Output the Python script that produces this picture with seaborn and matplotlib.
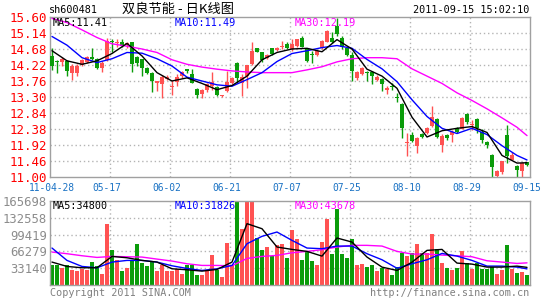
import matplotlib
matplotlib.use("Agg")
import matplotlib.pyplot as plt
import matplotlib.transforms as mtrans
import seaborn as sns
import numpy as np

sns.set_style("white")
plt.rcParams['font.family'] = ['DejaVu Sans Mono', 'Noto Sans CJK SC']

# ---------------- data ----------------
symbol = "sh600481"
title = "双良节能 - 日K线图"
stamp = "2011-09-15 15:02:10"

opens = [14.48, 14.33, 14.30, 14.33, 13.98, 14.00, 14.21, 14.31, 14.45, 14.40,
         14.14, 14.37, 14.92, 14.85, 14.87, 14.79, 14.87, 14.46, 14.38, 14.14,
         14.00, 13.69, 13.66, 13.82, 13.59, 13.73, 13.90, 14.10, 13.95, 13.53,
         13.40, 13.51, 13.63, 13.59, 13.32, 13.47, 13.69, 14.29, 13.71, 13.90,
         14.24, 14.70, 14.58, 14.43, 14.70, 14.65, 14.73, 14.82, 14.68, 14.77,
         15.01, 14.68, 14.55, 14.50, 14.70, 14.87, 15.01, 15.33, 15.01, 14.70,
         14.50, 13.85, 13.95, 14.02, 14.02, 13.78, 13.82, 13.49, 13.63, 13.31,
         13.10, 11.97, 12.21, 11.89, 12.24, 12.27, 12.47, 12.67, 11.92, 12.21,
         12.21, 12.42, 12.38, 12.80, 12.50, 12.67, 12.30, 12.02, 11.63, 11.04,
         11.13, 12.21, 11.50, 11.33, 11.17, 11.42]
highs = [14.70, 14.36, 14.45, 14.36, 14.24, 14.24, 14.38, 14.48, 14.70, 14.43,
         14.34, 15.01, 14.97, 14.98, 14.97, 14.87, 14.89, 14.48, 14.40, 14.17,
         14.02, 13.77, 13.92, 13.92, 13.80, 13.95, 14.05, 14.11, 14.10, 13.56,
         13.53, 13.69, 14.02, 13.61, 13.37, 14.05, 13.88, 14.31, 13.95, 14.23,
         14.87, 14.71, 14.60, 14.53, 14.71, 14.74, 14.92, 14.89, 14.97, 14.98,
         15.04, 14.70, 14.63, 14.66, 14.95, 15.24, 15.16, 15.58, 15.06, 14.72,
         14.58, 14.05, 14.16, 14.04, 14.04, 13.92, 13.85, 13.63, 13.71, 13.42,
         13.13, 12.26, 12.30, 12.16, 12.27, 12.45, 13.04, 12.71, 12.23, 12.25,
         12.35, 12.45, 12.72, 12.84, 12.64, 12.70, 12.37, 12.04, 11.65, 11.19,
         11.46, 12.49, 11.72, 11.35, 11.43, 11.44]
lows = [14.08, 13.99, 14.20, 13.90, 13.78, 13.90, 14.19, 14.29, 14.37, 14.11,
        14.02, 14.34, 14.58, 14.75, 14.75, 14.72, 14.02, 14.19, 13.90, 13.95,
        13.44, 13.47, 13.27, 13.78, 13.37, 13.61, 13.85, 14.00, 13.69, 13.27,
        13.27, 13.44, 13.51, 13.32, 13.30, 13.44, 13.66, 13.71, 13.34, 13.56,
        14.22, 14.58, 14.31, 14.40, 14.50, 14.63, 14.68, 14.68, 14.63, 14.75,
        14.73, 14.32, 14.29, 14.48, 14.68, 14.87, 14.85, 15.06, 14.68, 14.48,
        13.76, 13.78, 13.92, 13.76, 13.66, 13.76, 13.47, 13.40, 13.51, 13.15,
        12.11, 11.60, 12.01, 11.70, 12.11, 12.24, 12.44, 12.11, 11.72, 12.06,
        12.02, 12.27, 12.37, 12.53, 12.35, 12.26, 11.97, 11.82, 11.01, 11.00,
        11.10, 11.39, 11.48, 11.00, 11.00, 11.33]
closes = [14.18, 14.30, 14.38, 14.04, 14.20, 14.19, 14.37, 14.46, 14.40, 14.14,
          14.29, 14.92, 14.89, 14.89, 14.77, 14.85, 14.24, 14.27, 14.14, 13.98,
          13.76, 13.76, 13.88, 13.88, 13.63, 13.88, 14.02, 14.04, 13.71, 13.37,
          13.51, 13.66, 13.73, 13.37, 13.35, 13.73, 13.85, 13.85, 13.88, 14.21,
          14.63, 14.60, 14.37, 14.50, 14.53, 14.72, 14.77, 14.72, 14.82, 14.97,
          14.75, 14.34, 14.52, 14.63, 14.92, 15.21, 14.87, 15.11, 14.75, 14.50,
          14.05, 14.02, 14.14, 13.99, 13.90, 13.88, 13.66, 13.56, 13.60, 13.28,
          12.40, 12.00, 12.04, 12.11, 12.14, 12.40, 12.72, 12.16, 12.19, 12.13,
          12.30, 12.30, 12.70, 12.57, 12.52, 12.40, 12.06, 11.92, 11.30, 11.17,
          11.46, 11.60, 11.62, 11.19, 11.40, 11.35]
volumes = [38600, 40000, 33300, 39900, 30000, 27400, 32000, 30000, 45200, 36600,
           20800, 119700, 68300, 48500, 27400, 34000, 48500, 80000, 43200, 36600,
           45200, 26700, 38600, 26700, 26700, 32000, 22100, 38600, 38600, 18800,
           18800, 26700, 59700, 28700, 15500, 83400, 40000, 165698, 111000, 185000,
           170000, 92600, 68300, 74900, 57000, 79400, 80100, 53100, 107800, 91300,
           48500, 65000, 46500, 38600, 84700, 129600, 61000, 150700, 61000, 53100,
           90000, 38600, 40600, 35300, 38600, 26700, 33300, 32000, 18800, 35300,
           63000, 56400, 63600, 80100, 63600, 63600, 99900, 71600, 42500, 33300,
           28700, 33300, 66300, 42500, 30700, 42500, 30700, 30700, 35300, 20800,
           28700, 78200, 30700, 23400, 24700, 18800]

# moving-average lines, read at these day indices
ma_days = [0, 3, 6, 9, 12, 15, 18, 21, 24, 27, 30, 33, 36, 39, 42, 45, 48,
           51, 54, 57, 60, 63, 66, 69, 72, 75, 78, 81, 84, 87, 90, 93, 95]
ma5 = [14.63, 14.34, 14.24, 14.34, 14.55, 14.84, 14.48, 14.00, 13.76, 13.85, 13.69,
       13.51, 13.63, 13.90, 14.37, 14.58, 14.68, 14.70, 14.60, 14.95, 14.68, 14.10,
       13.90, 13.55, 12.72, 12.15, 12.33, 12.40, 12.45, 12.28, 11.62, 11.40, 11.41]
ma10 = [15.04, 14.79, 14.43, 14.29, 14.40, 14.58, 14.56, 14.40, 14.19, 13.87, 13.76,
        13.65, 13.61, 13.80, 14.00, 14.32, 14.55, 14.63, 14.72, 14.78, 14.70, 14.38,
        14.11, 13.74, 13.22, 12.74, 12.40, 12.25, 12.40, 12.22, 11.90, 11.62, 11.49]
ma30 = [15.56, 15.44, 15.23, 15.01, 14.83, 14.76, 14.68, 14.58, 14.37, 14.24, 14.16,
        14.10, 14.05, 14.02, 14.00, 14.00, 14.00, 14.08, 14.17, 14.31, 14.40, 14.43,
        14.43, 14.40, 14.11, 13.90, 13.69, 13.42, 13.20, 12.96, 12.70, 12.43, 12.19]
vma5 = [45200, 36600, 34000, 34000, 56400, 53700, 48500, 45200, 32000, 30000, 27400,
        30700, 45200, 121000, 111000, 74900, 70200, 66300, 57000, 92700, 84700, 55100,
        35300, 28700, 45000, 68300, 70200, 43200, 41200, 35300, 35300, 37300, 34800]
vma10 = [72900, 48500, 36600, 34000, 45200, 48500, 48500, 45200, 37900, 32600, 28700,
         32000, 38600, 81400, 96000, 104500, 88000, 72900, 71600, 76800, 76800, 61700,
         49800, 33000, 41900, 49800, 62300, 57000, 48500, 37300, 37300, 35300, 31826]
vma30 = [65000, 61700, 57700, 54400, 56400, 55700, 55100, 51100, 47200, 41900, 38600,
         38600, 37900, 52400, 56400, 58400, 63600, 66300, 69600, 74900, 78200, 78200,
         76800, 66300, 61000, 61000, 59000, 57700, 55700, 47800, 45200, 42500, 43678]

price_ticks = [11.00, 11.46, 11.92, 12.38, 12.84, 13.30, 13.76, 14.22, 14.68, 15.14, 15.60]
vol_ticks = [33140, 66279, 99419, 132558, 165698]
date_days = [0, 11, 23, 35, 47, 59, 71, 83, 95]
date_labels = ['11-04-28', '05-17', '06-02', '06-21', '07-07', '07-25', '08-10', '08-29', '09-15']

# ---------------- drawing ----------------
RED, GREEN = '#ff5252', '#0a9c0a'
GRID = '#b4b4b4'
W, H = 545.0, 300.0

fig = plt.figure(figsize=(5.45, 3.0), dpi=100)
fig.patch.set_facecolor('white')


def rect(l, t, r, b):
    return [l / W, 1 - b / H, (r - l) / W, (b - t) / H]


axp = fig.add_axes(rect(50, 17, 530, 177))
axv = fig.add_axes(rect(50, 201, 530, 285))

n = len(closes)
x = np.arange(n)
o = np.array(opens); c = np.array(closes)
up = c >= o
cols = np.where(up, RED, GREEN)

for ax in (axp, axv):
    ax.set_xlim(-0.4, n - 0.4)
    ax.set_facecolor('white')
    for s in ax.spines.values():
        s.set_color('#a0a0a0')
        s.set_linewidth(1.0)
    ax.set_xticks([])
    ax.tick_params(axis='y', length=0, pad=2)
    for k in range(1, 8):
        ax.axvline(12 * k - 0.4, color=GRID, lw=1, ls=(0, (1, 2)), zorder=0)

# price panel
axp.set_ylim(price_ticks[0], price_ticks[-1])
axp.set_yticks(price_ticks)
axp.set_yticklabels([f"{t:.2f}" for t in price_ticks], color='#ff0000', fontsize=9)
for t in price_ticks[1:-1]:
    axp.axhline(t, color=GRID, lw=1, ls=(0, (1, 2)), zorder=0)

body_lo = np.minimum(o, c)
body_h = np.maximum(np.abs(c - o), 0.03)
axp.vlines(x, lows, highs, colors=cols, lw=1, zorder=2)
axp.bar(x, body_h, bottom=body_lo, width=0.75, color=cols, lw=0, zorder=3)

sns.lineplot(x=ma_days, y=ma30, ax=axp, color='#ff00ff', lw=1, zorder=4, legend=False)
sns.lineplot(x=ma_days, y=ma10, ax=axp, color='#0000ff', lw=1, zorder=5, legend=False)
sns.lineplot(x=ma_days, y=ma5, ax=axp, color='black', lw=1, zorder=6, legend=False)
axp.set_xlim(-0.4, n - 0.4)
axp.set_ylim(price_ticks[0], price_ticks[-1])
axp.set_xlabel(''); axp.set_ylabel('')

# volume panel
axv.set_ylim(0, vol_ticks[-1])
axv.set_yticks(vol_ticks)
axv.set_yticklabels([str(t) for t in vol_ticks], color='#8c8c8c', fontsize=8.8)
for t in vol_ticks[:-1]:
    axv.axhline(t, color=GRID, lw=1, ls=(0, (1, 2)), zorder=0)
axv.bar(x, volumes, width=0.8, color=cols, lw=0, zorder=2)
sns.lineplot(x=ma_days, y=vma30, ax=axv, color='#ff00ff', lw=1, zorder=4, legend=False)
sns.lineplot(x=ma_days, y=vma10, ax=axv, color='#0000ff', lw=1, zorder=5, legend=False)
sns.lineplot(x=ma_days, y=vma5, ax=axv, color='black', lw=1, zorder=6, legend=False)
axv.set_xlim(-0.4, n - 0.4)
axv.set_ylim(0, vol_ticks[-1])
axv.set_xlabel(''); axv.set_ylabel('')


def ftext(px, py, s, **kw):
    fig.text(px / W, 1 - py / H, s, **kw)


# header
ftext(49, 10, symbol, fontsize=7.3, color='black', va='center', ha='left')
ftext(178, 9, title, fontsize=9.5, color='black', va='center', ha='center',
      family=['Noto Sans CJK SC', 'DejaVu Sans'])
ftext(529, 10, stamp, fontsize=7.3, color='black', va='center', ha='right')

# legends
ftext(53, 23, f"MA5:{ma5[-1]:.2f}", fontsize=7.3, color='black', va='center')
ftext(175, 23, f"MA10:{ma10[-1]:.2f}", fontsize=7.3, color='#0000ff', va='center')
ftext(295, 23, f"MA30:{ma30[-1]:.2f}", fontsize=7.3, color='#ff00ff', va='center')
ftext(53, 206, f"MA5:{vma5[-1]}", fontsize=7.3, color='black', va='center')
ftext(175, 206, f"MA10:{vma10[-1]}", fontsize=7.3, color='#0000ff', va='center')
ftext(295, 206, f"MA30:{vma30[-1]}", fontsize=7.3, color='#ff00ff', va='center')

# date labels
tr = mtrans.blended_transform_factory(axp.transData, fig.transFigure)
for d, lab in zip(date_days, date_labels):
    axp.text(d, 1 - 188 / H, lab, transform=tr, fontsize=6.9, color='#1a72c4',
             ha='center', va='center', clip_on=False)

# footer
ftext(50, 293, "Copyright 2011 SINA.COM", fontsize=7.3, color='#808080', va='center')
ftext(529, 293, "http://finance.sina.com.cn", fontsize=7.3, color='#808080',
      va='center', ha='right')

fig.savefig('out.png', dpi=100, facecolor='white')
